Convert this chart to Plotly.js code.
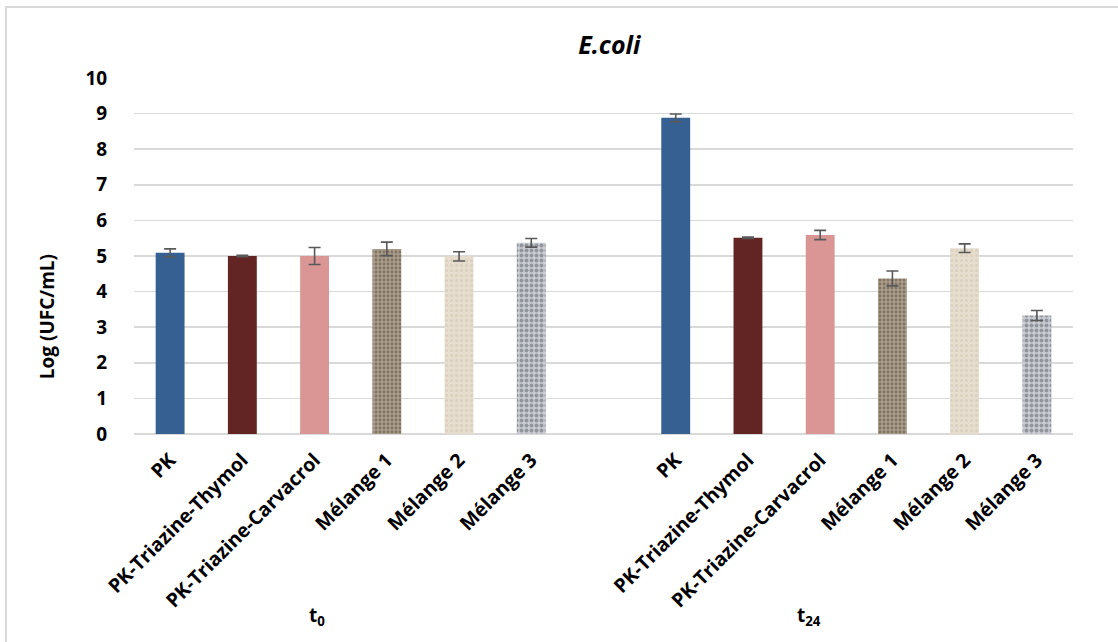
<!DOCTYPE html>
<html>
<head>
<meta charset="utf-8">
<script src="https://cdn.plot.ly/plotly-3.0.1.min.js"></script>
<style>
  html, body { margin: 0; padding: 0; background: #fff; overflow: hidden; }
  #wrap { position: relative; width: 1118px; height: 642px; }
  #chart { width: 1118px; height: 642px; }
  #frame { position: absolute; left: 5px; top: 6px; width: 1200px; height: 700px;
           border-left: 2px solid #d9d9d9; border-top: 2px solid #d9d9d9; pointer-events: none; }
</style>
</head>
<body>
<div id="wrap">
  <div id="chart"></div>
  <div id="frame"></div>
</div>
<script>
// ---- Data ----
const conditions = ["PK", "PK-Triazine-Thymol", "PK-Triazine-Carvacrol", "Mélange 1", "Mélange 2", "Mélange 3"];
const groups = ["t<sub>0</sub>", "t<sub>24</sub>"];
const valuesT0 = [5.09, 5.00, 5.00, 5.20, 4.99, 5.37];
const errorsT0 = [0.11, 0.02, 0.24, 0.19, 0.13, 0.12];
const valuesT24 = [8.88, 5.51, 5.59, 4.37, 5.22, 3.33];
const errorsT24 = [0.11, 0.02, 0.13, 0.21, 0.12, 0.14];
const yTicks = [0, 1, 2, 3, 4, 5, 6, 7, 8, 9, 10];

// ---- Styles ----
const styles = [
  { color: "#376092" },
  { color: "#632523" },
  { color: "#d99694" },
  { color: "#a89a89", pattern: { shape: ".", bgcolor: "#ab9d8b", fgcolor: "#54493c", size: 4, solidity: 0.4, fillmode: "overlay" } },
  { color: "#e5dccc", pattern: { shape: ".", bgcolor: "#e6ddce", fgcolor: "#cfc4b0", size: 5, solidity: 0.3, fillmode: "overlay" } },
  { color: "#c5c8ce", pattern: { shape: ".", bgcolor: "#c9ccd2", fgcolor: "#5a5e65", size: 5, solidity: 0.5, fillmode: "overlay" } }
];

const n = conditions.length;
const gapSlots = 1;
const posT0 = conditions.map((_, i) => i);
const posT24 = conditions.map((_, i) => i + n + gapSlots);

const traces = conditions.map((name, i) => {
  const marker = { color: styles[i].color, line: { width: 0 } };
  if (styles[i].pattern) marker.pattern = styles[i].pattern;
  return {
    type: "bar",
    name: name,
    x: [posT0[i], posT24[i]],
    y: [valuesT0[i], valuesT24[i]],
    width: 0.4,
    marker: marker,
    error_y: { type: "data", array: [errorsT0[i], errorsT24[i]], visible: true,
               color: "#595959", thickness: 1.6, width: 6 },
    hoverinfo: "x+y"
  };
});

const tickvals = posT0.concat(posT24);
const ticktext = conditions.concat(conditions);

const fontFam = "'Open Sans', 'Noto Sans', sans-serif";

const layout = {
  width: 1118, height: 642,
  margin: { l: 134, r: 45, t: 78, b: 208 },
  paper_bgcolor: "#ffffff",
  plot_bgcolor: "#ffffff",
  showlegend: false,
  barmode: "overlay",
  font: { family: fontFam, color: "#000" },
  title: { text: "<b><i>E.coli</i></b>", x: 0.545, xanchor: "center", y: 0.93, yanchor: "middle",
           font: { family: fontFam, size: 25, color: "#000" } },
  xaxis: {
    range: [-0.5, 2 * n + gapSlots - 0.5],
    tickmode: "array", tickvals: tickvals, ticktext: ticktext.map(t => "<b>" + t + "</b>"),
    tickangle: -45, tickfont: { family: fontFam, size: 19.5, color: "#000" },
    showgrid: false, zeroline: false, showline: false, ticks: "outside", ticklen: 6,
    tickcolor: "rgba(0,0,0,0)", fixedrange: true
  },
  yaxis: {
    range: [0, 10], tickmode: "array", tickvals: yTicks, ticktext: yTicks.map(v => "<b>" + v + "</b>"),
    tickfont: { family: fontFam, size: 19, color: "#000" },
    showgrid: true, gridcolor: "#d9d9d9", gridwidth: 1.6,
    zeroline: true, zerolinecolor: "#d9d9d9", zerolinewidth: 1.6,
    showline: false, ticks: "outside", ticklen: 22, tickcolor: "rgba(0,0,0,0)", fixedrange: true
  },
  annotations: [
    { text: "<b>Log (UFC/mL)</b>", xref: "paper", yref: "paper", x: -0.093, y: 0.33,
      xanchor: "center", yanchor: "middle", textangle: -90, showarrow: false,
      font: { family: fontFam, size: 19, color: "#000" } },
    { text: "<b>" + groups[0] + "</b>", xref: "x", yref: "paper", x: 2.03, y: -0.51,
      xanchor: "center", yanchor: "middle", showarrow: false,
      font: { family: fontFam, size: 19, color: "#000" } },
    { text: "<b>" + groups[1] + "</b>", xref: "x", yref: "paper", x: 8.85, y: -0.51,
      xanchor: "center", yanchor: "middle", showarrow: false,
      font: { family: fontFam, size: 19, color: "#000" } }
  ]
};

Plotly.newPlot("chart", traces, layout, { displayModeBar: false, staticPlot: true });
</script>
</body>
</html>
